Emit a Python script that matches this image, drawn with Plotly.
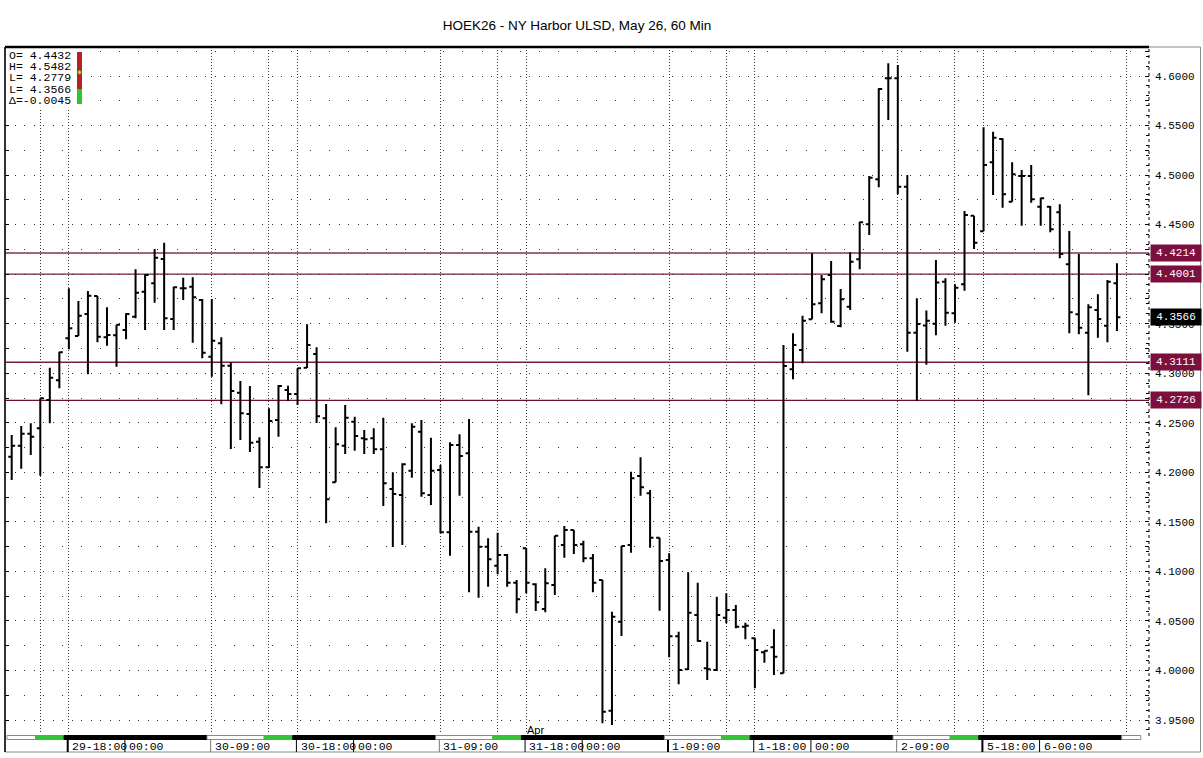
import plotly.graph_objects as go
import numpy as np

title_text = "HOEK26 - NY Harbor ULSD, May 26, 60 Min"

# ---- hourly OHLC bars ----
open_px = [
    4.2158, 4.2269, 4.2390, 4.2444, 4.2730, 4.2929, 4.3353, 4.3376, 4.3598, 4.3780,
    4.3363, 4.3383, 4.3436, 4.3571, 4.3823, 4.3908, 4.4153, 4.3547, 4.3857, 4.3873,
    4.3739, 4.3167, 4.3302, 4.3076, 4.2804, 4.2589, 4.2309, 4.2051, 4.2528, 4.2831,
    4.2790, 4.3056, 4.3194, 4.2545, 4.1899, 4.2269, 4.2511, 4.2343, 4.2343, 4.2232,
    4.1832, 4.1771, 4.2016, 4.2410, 4.1771, 4.2023, 4.1395, 4.2276, 4.2192, 4.1401,
    4.1249, 4.1058, 4.1166, 4.0886, 4.1233, 4.0870, 4.0621, 4.0863, 4.1266, 4.1418,
    4.1273, 4.1132, 4.0913, 3.9594, 4.0492, 4.1266, 4.1963, 4.1788, 4.1340, 4.1115,
    4.0345, 4.0012, 4.0560, 4.0022, 4.0005, 4.0533, 4.0610, 4.0442, 4.0325, 4.0184,
    4.0234, 3.9971, 4.3040, 4.3235, 4.3544, 4.3706, 4.3992, 4.3477, 4.3672, 4.4150,
    4.4503, 4.4957, 4.5977, 4.5977, 4.4883, 4.3409, 4.3482, 4.3500, 4.3924, 4.3605,
    4.3898, 4.4590, 4.4432, 4.5129, 4.5364, 4.4731, 4.4991, 4.4991, 4.4681, 4.4681,
    4.4624, 4.4100, 4.3595, 4.3409, 4.3638, 4.3480, 4.3908]
high_px = [
    4.2377, 4.2467, 4.2495, 4.2747, 4.3056, 4.3217, 4.3857, 4.3729, 4.3830, 4.3780,
    4.3666, 4.3490, 4.3605, 4.4049, 4.3999, 4.4254, 4.4318, 4.3873, 4.3964, 4.3968,
    4.3749, 4.3749, 4.3363, 4.3110, 4.2922, 4.2871, 4.2353, 4.2646, 4.2881, 4.2874,
    4.3050, 4.3494, 4.3262, 4.2690, 4.2454, 4.2679, 4.2561, 4.2427, 4.2444, 4.2551,
    4.2000, 4.2091, 4.2495, 4.2528, 4.2349, 4.2074, 4.2303, 4.2384, 4.2538, 4.1451,
    4.1334, 4.1391, 4.1176, 4.0913, 4.1233, 4.0880, 4.1031, 4.1360, 4.1458, 4.1418,
    4.1310, 4.1176, 4.0913, 4.0593, 4.1256, 4.2006, 4.2152, 4.1822, 4.1340, 4.1183,
    4.0391, 4.0991, 4.0886, 4.0291, 4.0745, 4.0779, 4.0661, 4.0482, 4.0331, 4.0200,
    4.0416, 4.3285, 4.3403, 4.3581, 4.4211, 4.3992, 4.4133, 4.3850, 4.4221, 4.4529,
    4.4991, 4.5876, 4.6128, 4.6111, 4.5001, 4.3756, 4.3633, 4.4143, 4.3958, 4.3898,
    4.4637, 4.4590, 4.5482, 4.5438, 4.5371, 4.5129, 4.5051, 4.5102, 4.4772, 4.4688,
    4.4705, 4.4436, 4.4203, 4.3696, 4.3797, 4.3941, 4.4110]
low_px = [
    4.1922, 4.2037, 4.2175, 4.1966, 4.2495, 4.2848, 4.3242, 4.3376, 4.2989, 4.3312,
    4.3278, 4.3066, 4.3343, 4.3554, 4.3436, 4.3712, 4.3436, 4.3436, 4.3739, 4.3308,
    4.3151, 4.2965, 4.2687, 4.2235, 4.2326, 4.2205, 4.1842, 4.2044, 4.2360, 4.2720,
    4.2679, 4.3053, 4.2498, 4.1485, 4.1899, 4.2185, 4.2218, 4.2185, 4.2185, 4.1660,
    4.1246, 4.1266, 4.1946, 4.1754, 4.1670, 4.1384, 4.1158, 4.1764, 4.0789, 4.0735,
    4.0846, 4.0971, 4.0846, 4.0577, 4.0779, 4.0600, 4.0587, 4.0762, 4.1138, 4.1176,
    4.1092, 4.0789, 3.9467, 3.9450, 4.0348, 4.1189, 4.1764, 4.1239, 4.0603, 4.0133,
    3.9861, 4.0005, 4.0291, 3.9904, 3.9995, 4.0476, 4.0426, 4.0315, 3.9820, 4.0079,
    3.9954, 3.9971, 4.2939, 4.3100, 4.3544, 4.3605, 4.3510, 4.3464, 4.3638, 4.4049,
    4.4395, 4.4877, 4.5556, 4.4806, 4.3217, 4.2723, 4.3086, 4.3383, 4.3480, 4.3510,
    4.3833, 4.4254, 4.4432, 4.4799, 4.4671, 4.4731, 4.4489, 4.4721, 4.4489, 4.4422,
    4.4160, 4.3403, 4.3393, 4.2779, 4.3359, 4.3312, 4.3426]
close_px = [
    4.2269, 4.2390, 4.2359, 4.2747, 4.2955, 4.3211, 4.3454, 4.3581, 4.3783, 4.3369,
    4.3386, 4.3490, 4.3598, 4.3813, 4.3992, 4.4166, 4.3554, 4.3867, 4.3857, 4.3766,
    4.3207, 4.3328, 4.3076, 4.2821, 4.2596, 4.2299, 4.2051, 4.2518, 4.2871, 4.2790,
    4.3050, 4.3285, 4.2565, 4.1728, 4.2283, 4.2551, 4.2367, 4.2333, 4.2232, 4.1889,
    4.1781, 4.2081, 4.2460, 4.1788, 4.2016, 4.1395, 4.2276, 4.2165, 4.1401, 4.1249,
    4.1122, 4.1166, 4.0886, 4.0718, 4.0886, 4.0688, 4.0880, 4.1360, 4.1418, 4.1266,
    4.1132, 4.0886, 3.9584, 4.0543, 4.1256, 4.1940, 4.1849, 4.1340, 4.1105, 4.0345,
    4.0005, 4.0583, 4.0298, 4.0012, 4.0560, 4.0610, 4.0442, 4.0452, 4.0207, 4.0200,
    4.0139, 4.3073, 4.3285, 4.3530, 4.3696, 4.3948, 4.3520, 4.3746, 4.4126, 4.4523,
    4.4974, 4.5869, 4.5977, 4.4883, 4.3409, 4.3497, 4.3530, 4.3916, 4.3611, 4.3863,
    4.4597, 4.4318, 4.5102, 4.5377, 4.4806, 4.5008, 4.4991, 4.4756, 4.4766, 4.4453,
    4.4203, 4.3615, 4.3460, 4.3666, 4.3547, 4.3924, 4.3566]
bar_idx = list(range(len(open_px)))

key_levels = [4.4214, 4.4001, 4.3111, 4.2726]
last_price = 4.3566
legend_lines = ["O= 4.4432", "H= 4.5482", "L= 4.2779", "L= 4.3566", "\u0394=-0.0045"]

# session strip: (first bar, last bar, kind)
sessions = [(0, 2, "day"), (3, 5, "settle"), (6, 20, "night"), (21, 26, "day"), (27, 29, "settle"),
            (30, 44, "night"), (45, 50, "day"), (51, 53, "settle"), (54, 68, "night"),
            (69, 74, "day"), (75, 77, "settle"), (78, 92, "night"), (93, 98, "day"),
            (99, 101, "settle"), (102, 116, "night"), (117, 118, "day")]
time_labels = [(6, "29-18:00"), (12, "00:00"), (21, "30-09:00"), (30, "30-18:00"), (36, "00:00"),
               (45, "31-09:00"), (54, "31-18:00"), (60, "00:00"), (69, "1-09:00"), (78, "1-18:00"),
               (84, "00:00"), (93, "2-09:00"), (102, "5-18:00"), (108, "6-00:00")]
month_label = (54, "Apr")
y_major = [round(v, 4) for v in np.arange(3.95, 4.6001, 0.05)]
y_half = [round(v + 0.025, 4) for v in np.arange(3.90, 4.6001, 0.05)]

# ---- layout geometry ----
W, H = 1203, 758
ML, MR, MT, MB = 5, 54, 47, 24
PW, PH = W - ML - MR, H - MT - MB
def px_x(p):
    return (p - ML) / PW
def px_y(p):
    return 1 - (p - MT) / PH

XR = [-0.7032, 119.364]
YR = [3.93587, 4.62927]

MAROON = "#7d0f3e"
fig = go.Figure()
fig.add_trace(go.Ohlc(
    x=bar_idx, open=open_px, high=high_px, low=low_px, close=close_px,
    increasing=dict(line=dict(color="black", width=2)),
    decreasing=dict(line=dict(color="black", width=2)),
    tickwidth=0.36, showlegend=False, hoverinfo="skip"))
fig.add_trace(go.Scatter(x=[bar_idx[-1]], y=[close_px[-1]], yaxis="y2", mode="markers",
                         marker=dict(opacity=0), showlegend=False, hoverinfo="skip"))

shapes = []
annotations = []

# key level lines and boxes
line_styles = [("#a06584", 2), ("#7a1a46", 1.3), ("#7a1a46", 1.3), ("#6e0f3a", 1.3)]
for lvl, (col, wd) in zip(key_levels, line_styles):
    shapes.append(dict(type="line", xref="paper", yref="y", x0=0, x1=1, y0=lvl, y1=lvl,
                       line=dict(color=col, width=wd), layer="below"))
    annotations.append(dict(x=1, xref="paper", xanchor="left", xshift=1, y=lvl, yref="y",
                            yanchor="middle", text=f"{lvl:.4f}", showarrow=False,
                            bgcolor=MAROON, width=48, height=14,
                            font=dict(family="Liberation Mono", size=11, color="white")))
annotations.append(dict(x=1, xref="paper", xanchor="left", xshift=1, y=last_price, yref="y",
                        yanchor="middle", text=f"{last_price:.4f}", showarrow=False,
                        bgcolor="black", width=48, height=14,
                        font=dict(family="Liberation Mono", size=11, color="white")))

# legend box
shapes.append(dict(type="rect", xref="paper", yref="paper", x0=0, x1=px_x(86), y0=px_y(108), y1=1,
                   fillcolor="white", line=dict(width=0), layer="above"))
shapes.append(dict(type="rect", xref="paper", yref="paper", x0=px_x(77), x1=px_x(82),
                   y0=px_y(89), y1=px_y(52), fillcolor="#b5221f", line=dict(width=0), layer="above"))
shapes.append(dict(type="rect", xref="paper", yref="paper", x0=px_x(77), x1=px_x(82),
                   y0=px_y(104), y1=px_y(89), fillcolor="#2ec52e", line=dict(width=0), layer="above"))
shapes.append(dict(type="circle", xref="paper", yref="paper", x0=px_x(77.5), x1=px_x(81.5),
                   y0=px_y(74.5), y1=px_y(70), fillcolor="#e8c84a", line=dict(color="#6b5a10", width=1),
                   layer="above"))
for i, t in enumerate(legend_lines):
    annotations.append(dict(x=px_x(7), xref="paper", xanchor="left", y=px_y(55.5 + 11.2 * i),
                            yref="paper", yanchor="middle", text=t, showarrow=False,
                            font=dict(family="Liberation Mono", size=11.5, color="black")))

# borders
shapes.append(dict(type="rect", xref="paper", yref="paper", x0=0, x1=px_x(1200.5), y0=px_y(752), y1=1,
                   line=dict(color="#8a8a8a", width=1), layer="above"))
shapes.append(dict(type="line", xref="paper", yref="paper", x0=0, x1=1, y0=1, y1=1,
                   line=dict(color="black", width=2.5), layer="above"))
shapes.append(dict(type="line", xref="paper", yref="paper", x0=0, x1=0, y0=px_y(752), y1=1,
                   line=dict(color="black", width=1.5), layer="above"))
shapes.append(dict(type="line", xref="paper", yref="paper", x0=1, x1=1, y0=px_y(736), y1=1,
                   line=dict(color="black", width=1, dash="dot"), layer="above"))

# session strip
strip_col = {"day": "white", "settle": "#33c433", "night": "black"}
for a, b, kind in sessions:
    shapes.append(dict(type="rect", xref="x", yref="paper", x0=a - 0.5, x1=b + 0.5,
                       y0=px_y(739.5), y1=px_y(735.5), fillcolor=strip_col[kind],
                       line=dict(color="#8a8a8a" if kind == "day" else strip_col[kind], width=1),
                       layer="above"))

# time labels
for idx, txt in time_labels:
    heavy = txt in ("29-18:00", "1-09:00", "5-18:00")
    col = "#777777" if txt.endswith("09:00") and not heavy else "black"
    shapes.append(dict(type="line", xref="x", yref="paper", x0=idx - 0.12, x1=idx - 0.12,
                       y0=px_y(752), y1=px_y(740), line=dict(color=col, width=2 if heavy else 1),
                       layer="above"))
    annotations.append(dict(x=idx, xref="x", xanchor="left", xshift=1, y=px_y(746), yref="paper",
                            yanchor="middle", text=txt, showarrow=False,
                            font=dict(family="Liberation Mono", size=11.5, color="black")))
annotations.append(dict(x=month_label[0], xref="x", xanchor="left", xshift=-1, y=px_y(729.5),
                        yref="paper", yanchor="middle", text=month_label[1], showarrow=False,
                        font=dict(family="Liberation Sans", size=11, color="black")))

grid_x = [a for a, b, k in sessions[1:]]

fig.update_layout(
    width=W, height=H, margin=dict(l=ML, r=MR, t=MT, b=MB, pad=0),
    paper_bgcolor="white", plot_bgcolor="white",
    title=dict(text=title_text, x=0.5, xanchor="center", xref="paper", y=1 - 25 / H,
               yref="container", yanchor="middle",
               font=dict(family="Liberation Sans", size=13.5, color="black")),
    showlegend=False,
    xaxis=dict(range=XR, rangeslider=dict(visible=False), showgrid=True, tickmode="array",
               tickvals=grid_x, showticklabels=False, ticks="", gridcolor="#333333", gridwidth=1,
               griddash="1px,2px", zeroline=False, showline=False, fixedrange=True),
    yaxis=dict(range=YR, side="right", tickmode="array", tickvals=y_major,
               ticktext=[f"{v:.4f}" for v in y_major], ticks="inside", ticklen=4, tickcolor="black",
               tickfont=dict(family="Liberation Mono", size=11, color="black"),
               ticklabelstandoff=5,
               showgrid=True, gridcolor="#333333", gridwidth=1, griddash="1px,8.53px",
               minor=dict(tickmode="array", tickvals=y_half, ticks="inside", ticklen=4,
                          tickcolor="black", showgrid=True, gridcolor="#333333", gridwidth=1,
                          griddash="1px,18.06px"),
               mirror="ticks", zeroline=False, showline=False, fixedrange=True),
    yaxis2=dict(range=YR, overlaying="y", side="right", anchor="x", tickmode="linear", tick0=3.95,
                dtick=0.01, ticks="inside", ticklen=3, tickcolor="black", showticklabels=False,
                showgrid=False, zeroline=False, showline=False, fixedrange=True),
    shapes=shapes, annotations=annotations,
)

fig.write_html("out.html", config={"displayModeBar": False},
               post_script="document.body.style.margin='0';document.body.style.overflow='hidden';")
